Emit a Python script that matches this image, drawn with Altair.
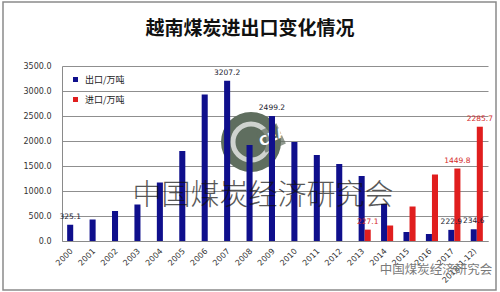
import altair as alt
import pandas as pd

# ---- data ----
years = ["2000", "2001", "2002", "2003", "2004", "2005", "2006", "2007", "2008",
         "2009", "2010", "2011", "2012", "2013", "2014", "2015", "2016", "2017",
         "2018(1-12)"]
export_vals = [325.1, 430, 600, 730, 1170, 1800, 2930, 3207.2, 1920, 2499.2,
               1980, 1720, 1540, 1300, 740, 180, 140, 222.9, 234.6]
import_vals = [None, None, None, None, None, None, None, None, None, None,
               None, None, None, 227.1, 310, 690, 1330, 1449.8, 2285.7]
series_names = ["出口/万吨", "进口/万吨"]
export_label_years = ["2000", "2007", "2009", "2017", "2018(1-12)"]
import_label_years = ["2013", "2017", "2018(1-12)"]
y_ticks = [0, 500, 1000, 1500, 2000, 2500, 3000, 3500]
title_text = "越南煤炭进出口变化情况"
watermark_text = "中国煤炭经济研究会"

NAVY = "#0f0f8c"
RED = "#e01e1e"

rows = []
for y, e, i in zip(years, export_vals, import_vals):
    if e is not None:
        rows.append({"year": y, "series": series_names[0], "value": e,
                     "show": y in export_label_years})
    if i is not None:
        rows.append({"year": y, "series": series_names[1], "value": i,
                     "show": y in import_label_years})
df = pd.DataFrame(rows)

FONT = "DejaVu Sans"
CJK = "Noto Sans CJK SC"

x_enc = alt.X("year:N", sort=years, title=None,
              scale=alt.Scale(paddingInner=0.46, paddingOuter=0.23),
              axis=alt.Axis(labelAngle=-45, labelFont=FONT, labelFontSize=8,
                            labelColor="#333333", ticks=False, domainColor="#8a8a8a",
                            labelPadding=6, labelOffset=-4))
xoff_enc = alt.XOffset("series:N", sort=series_names,
                       scale=alt.Scale(domain=series_names, paddingInner=0, paddingOuter=0))
y_enc = alt.Y("value:Q", title=None,
              scale=alt.Scale(domain=[0, 3500], nice=False),
              axis=alt.Axis(values=y_ticks, format=".1f", labelFont=FONT,
                            labelFontSize=8, labelColor="#333333", ticks=False,
                            labelPadding=11, domain=True, domainColor="#8a8a8a",
                            grid=True, gridColor="#8f8f8f", gridWidth=1,
                            labelOverlap=False, tickCount=8))

base = alt.Chart(df)

# watermark logo (drawn beneath bars)
logo_df = pd.DataFrame({"t": ["CEA"]})
logo_disc = alt.Chart(logo_df).mark_point(shape="circle", filled=True, size=3600,
                                          color="#5f6e5f", opacity=1).encode(
    x=alt.value(189), y=alt.value(76))
logo_ring = alt.Chart(logo_df).mark_point(shape="circle", filled=False, size=1300,
                                          color="white", strokeWidth=5).encode(
    x=alt.value(189), y=alt.value(76))
logo_band = alt.Chart(logo_df).mark_point(shape="square", filled=True, size=500,
                                          color="#5f6e5f", angle=335).encode(
    x=alt.value(209), y=alt.value(72))
logo_text = alt.Chart(logo_df).mark_text(font=FONT, fontSize=13, fontWeight="bold",
                                         color="white", angle=335).encode(
    x=alt.value(211), y=alt.value(71), text="t:N")

bars = base.mark_bar().encode(
    x=x_enc, xOffset=xoff_enc, y=y_enc,
    color=alt.Color("series:N", sort=series_names,
                    scale=alt.Scale(domain=series_names, range=[NAVY, RED]),
                    legend=alt.Legend(title=None, orient="none", legendX=9, legendY=9,
                                      symbolType="square", symbolSize=25,
                                      labelFont=CJK, labelFontSize=9,
                                      labelColor="#222222", rowPadding=10,
                                      labelOffset=5, padding=0)),
)

lab_exp = base.transform_filter(
    (alt.datum.show == True) & (alt.datum.series == series_names[0])
).mark_text(font=FONT, fontSize=7.5, color="#1a1a2e", baseline="bottom", dy=-4).encode(
    x=x_enc, xOffset=xoff_enc, y=y_enc,
    text=alt.Text("value:Q", format=".1f"))
lab_imp = base.transform_filter(
    (alt.datum.show == True) & (alt.datum.series == series_names[1])
).mark_text(font=FONT, fontSize=7.5, color="#d42a2a", baseline="bottom", dy=-4).encode(
    x=x_enc, xOffset=xoff_enc, y=y_enc,
    text=alt.Text("value:Q", format=".1f"))

wm_df = pd.DataFrame({"t": [watermark_text]})
wm_big = alt.Chart(wm_df).mark_text(font=CJK, fontSize=29, fontWeight=300,
                                    color="#111111", opacity=0.7).encode(
    x=alt.value(201), y=alt.value(130), text="t:N")
wm_small = alt.Chart(wm_df).mark_text(font=CJK, fontSize=12.5, color="#7a7a7a").encode(
    x=alt.value(374), y=alt.value(204), text="t:N")

title_df = pd.DataFrame({"t": [title_text]})
title_mark = alt.Chart(title_df).mark_text(font=CJK, fontSize=19, fontWeight="bold",
                                           color="#111111").encode(
    x=alt.value(188), y=alt.value(-37), text="t:N")

border = alt.Chart(pd.DataFrame({"a": [0]})).mark_rect(
    fill="transparent", stroke="#8a8a8a", strokeWidth=1.5).encode(
    x=alt.value(-59), x2=alt.value(434), y=alt.value(-64), y2=alt.value(224))

chart = alt.layer(
    logo_disc, logo_ring, logo_band, logo_text, bars, lab_exp, lab_imp, wm_big,
    wm_small, title_mark, border
).properties(
    width=426, height=175,
    autosize=alt.AutoSizeParams(type="none"),
    padding={"left": 62, "top": 66, "right": 12, "bottom": 51},
    background="white",
).configure_view(stroke=None)

chart.save("out.html", embed_options={"renderer": "svg", "actions": False})
